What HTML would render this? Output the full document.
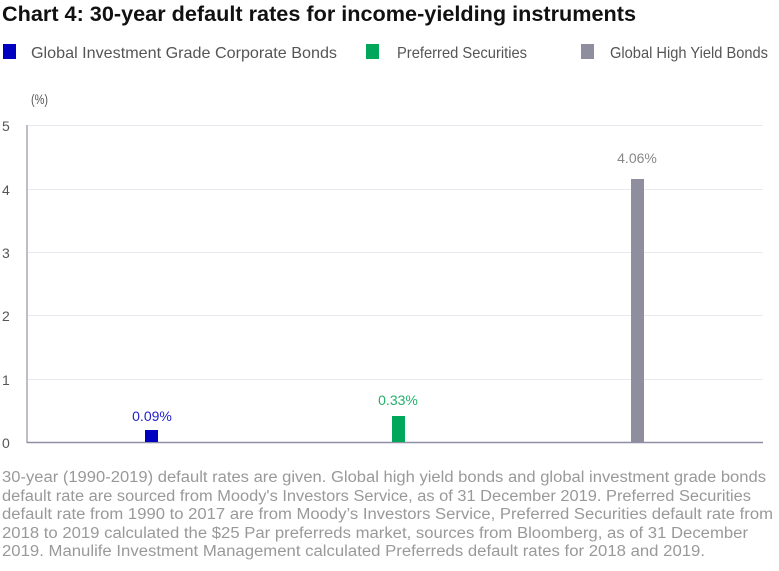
<!DOCTYPE html>
<html><head><meta charset="utf-8"><style>
body{margin:0;width:779px;height:571px;background:#fff;overflow:hidden;}
</style></head><body>
<svg width="779" height="571" style="position:absolute;left:0;top:0" font-family="Liberation Sans, sans-serif">
<text x="2" y="21" font-size="21" font-weight="bold" fill="#111" textLength="634" lengthAdjust="spacingAndGlyphs">Chart 4: 30-year default rates for income-yielding instruments</text>
<rect x="3" y="44" width="13" height="15" fill="#0000c0"/>
<text x="31" y="58" font-size="16" fill="#555" textLength="306" lengthAdjust="spacingAndGlyphs">Global Investment Grade Corporate Bonds</text>
<rect x="366" y="44" width="13" height="15" fill="#00a65a"/>
<text x="397" y="58" font-size="16" fill="#555" textLength="130" lengthAdjust="spacingAndGlyphs">Preferred Securities</text>
<rect x="581" y="44" width="13" height="15" fill="#8e8e9e"/>
<text x="610" y="58" font-size="16" fill="#555" textLength="158" lengthAdjust="spacingAndGlyphs">Global High Yield Bonds</text>
<text x="31" y="104" font-size="14" fill="#555" textLength="17" lengthAdjust="spacingAndGlyphs">(%)</text>
<g stroke="#e8e8ee" stroke-width="1">
<line x1="28" x2="763" y1="125.5" y2="125.5"/><line x1="28" x2="763" y1="189.5" y2="189.5"/><line x1="28" x2="763" y1="252.5" y2="252.5"/><line x1="28" x2="763" y1="315.5" y2="315.5"/><line x1="28" x2="763" y1="379.5" y2="379.5"/>
</g>
<line x1="27" x2="27" y1="125" y2="443" stroke="#a8a8b8" stroke-width="1.5"/>
<line x1="27" x2="763" y1="442.5" y2="442.5" stroke="#8e8ea4" stroke-width="1.5"/>
<g font-size="14" fill="#555">
<text x="2" y="131">5</text><text x="2" y="195">4</text><text x="2" y="258">3</text><text x="2" y="321">2</text><text x="2" y="385">1</text><text x="2" y="448">0</text>
</g>
<rect x="145" y="430" width="13" height="12" fill="#0000c0"/>
<rect x="392" y="416" width="13" height="26" fill="#00a65a"/>
<rect x="631" y="179" width="13" height="263" fill="#8e8e9e"/>
<text x="152" y="421" font-size="14" fill="#2222cc" text-anchor="middle">0.09%</text>
<text x="398" y="405" font-size="14" fill="#22b06a" text-anchor="middle">0.33%</text>
<text x="637" y="163" font-size="14" fill="#888" text-anchor="middle">4.06%</text>
<g font-size="15.5" fill="#999">
<text x="2" y="482" textLength="764" lengthAdjust="spacingAndGlyphs">30-year (1990-2019) default rates are given. Global high yield bonds and global investment grade bonds</text>
<text x="2" y="501" textLength="749" lengthAdjust="spacingAndGlyphs">default rate are sourced from Moody's Investors Service, as of 31 December 2019. Preferred Securities</text>
<text x="2" y="519" textLength="771" lengthAdjust="spacingAndGlyphs">default rate from 1990 to 2017 are from Moody’s Investors Service, Preferred Securities default rate from</text>
<text x="2" y="538" textLength="746" lengthAdjust="spacingAndGlyphs">2018 to 2019 calculated the $25 Par preferreds market, sources from Bloomberg, as of 31 December</text>
<text x="2" y="556" textLength="703" lengthAdjust="spacingAndGlyphs">2019. Manulife Investment Management calculated Preferreds default rates for 2018 and 2019.</text>
</g>
</svg>
</body></html>
